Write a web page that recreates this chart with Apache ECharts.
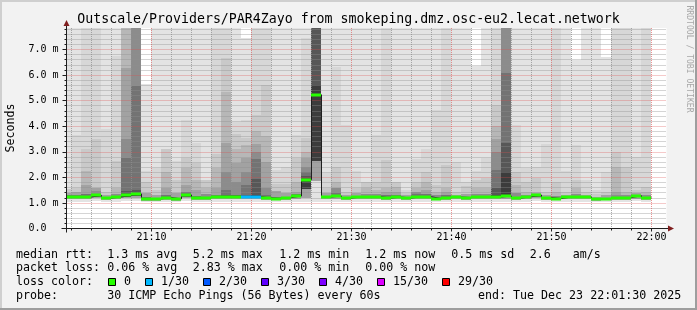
<!DOCTYPE html>
<html><head><meta charset="utf-8">
<script src="https://cdn.jsdelivr.net/npm/echarts@6/dist/echarts.min.js"></script>
<style>html,body{margin:0;padding:0;background:#f2f2f2;}#c{width:697px;height:310px;}</style>
</head><body><div id="c"></div>
<script>
// ---- data ----
const columnEnds = ['21:02','21:03','21:04','21:05','21:06','21:07','21:08','21:09','21:10','21:11',
  '21:12','21:13','21:14','21:15','21:16','21:17','21:18','21:19','21:20','21:21',
  '21:22','21:23','21:24','21:25','21:26','21:27','21:28','21:29','21:30','21:31',
  '21:32','21:33','21:34','21:35','21:36','21:37','21:38','21:39','21:40','21:41',
  '21:42','21:43','21:44','21:45','21:46','21:47','21:48','21:49','21:50','21:51',
  '21:52','21:53','21:54','21:55','21:56','21:57','21:58','21:59','22:00'];
const medianRtt = [1.24,1.24,1.23,1.30,1.19,1.23,1.30,1.35,1.16,1.16,
  1.21,1.16,1.31,1.21,1.21,1.24,1.24,1.24,1.24,1.24,
  1.19,1.17,1.21,1.27,1.91,5.23,1.23,1.27,1.19,1.23,
  1.23,1.24,1.19,1.23,1.19,1.24,1.24,1.17,1.21,1.23,
  1.21,1.23,1.23,1.23,1.27,1.19,1.24,1.31,1.21,1.17,
  1.23,1.23,1.23,1.15,1.17,1.19,1.21,1.28,1.20];
const lostPings = [0,0,0,0,0,0,0,0,0,0, 0,0,0,0,0,0,0,0,1,1, 0,0,0,0,0,0,0,0,0,0,
  0,0,0,0,0,0,0,0,0,0, 0,0,0,0,0,0,0,0,0,0, 0,0,0,0,0,0,0,0,0];
// smoke band tops, lightest (1) to darkest (9); 9 = beyond the top of the graph
const smokeTop1 = [9,9,9,9,9,9,9,9,5.65,9, 9,9,9,9,9,9,9,9,7.45,9, 9,9,9,9,9,9,9,9,9,9,
  9,9,9,9,9,9,9,9,9,9, 9,6.34,9,9,9,9,9,9,9,9, 9,6.6,9,9,6.7,9,9,9,9];
const smokeTop2 = [1.55,3.66,9,9,3.9,6.73,9,9,2.25,2.35, 3.11,2.64,4.25,3.36,1.9,9,9,4.18,4.25,9,
  9,2.29,2.42,3.66,7.45,9,2.16,6.3,4.05,2.25, 1.83,3.66,9,1.83,1.5,2.72,3.11,4.64,9,2.59,
  1.83,2.25,2.77,9,9,4.05,2.35,2.42,3.31,9, 2.25,3.27,1.9,1.5,2.22,9,9,2.81,9];
const smokeTop3 = [1.55,1.57,3.11,3.49,1.44,2.64,9,9,1.83,1.5, 3.11,1.9,2.75,2.56,1.9,2.9,6.67,3.7,3.53,4.44,
  5.6,1.73,1.73,2.75,3.53,9,1.57,2.42,1.44,1.6, 1.83,1.83,2.68,1.83,1.4,1.83,2.22,1.7,2.48,1.44,
  1.65,1.9,1.96,4.84,9,2.22,1.83,1.96,1.44,1.83, 1.44,1.9,1.44,1.35,1.44,3.0,2.42,1.5,1.63];
const smokeTop4 = [1.4,1.42,2.25,1.57,1.3,1.6,9,9,1.37,1.3, 2.22,1.4,2.35,1.9,1.6,2.35,5.35,3.1,3.27,3.8,
  3.6,1.45,1.4,1.83,3.0,9,1.37,1.83,1.3,1.37, 1.57,1.5,1.57,1.63,1.3,1.57,1.83,1.44,1.57,1.32,
  1.35,1.57,1.6,4.0,9,1.7,1.44,1.44,1.3,1.44, 1.32,1.57,1.32,1.25,1.3,2.42,1.44,1.37,1.44];
const smokeTop5 = [1.4,1.42,1.7,1.57,1.3,1.35,6.27,9,1.37,1.3, 1.6,1.4,1.7,1.5,1.35,1.6,3.36,2.56,2.75,3.3,
  2.6,1.45,1.4,1.44,2.75,9,1.37,1.57,1.3,1.37, 1.35,1.35,1.44,1.44,1.3,1.44,1.5,1.3,1.44,1.32,
  1.35,1.35,1.35,3.5,9,1.4,1.32,1.37,1.3,1.28, 1.32,1.33,1.32,1.25,1.3,1.44,1.3,1.37,1.3];
const smokeTop6 = [1.3,1.32,1.36,1.45,1.24,1.35,3.5,9,1.22,1.2, 1.3,1.21,1.42,1.28,1.35,1.32,2.2,1.82,2.2,3.0,
  1.6,1.22,1.25,1.33,2.4,9,1.26,1.57,1.22,1.27, 1.35,1.35,1.3,1.3,1.23,1.44,1.35,1.3,1.3,1.26,
  1.25,1.35,1.35,3.0,9,1.4,1.32,1.35,1.24,1.28, 1.26,1.33,1.26,1.19,1.21,1.3,1.3,1.32,1.3];
const smokeTop7 = [1.3,1.32,1.36,1.35,1.24,1.27,2.75,5.56,1.22,1.2, 1.3,1.21,1.42,1.28,1.25,1.32,1.5,1.3,1.7,2.7,
  1.3,1.22,1.25,1.33,2.22,9,1.26,1.4,1.22,1.27, 1.25,1.26,1.3,1.3,1.23,1.35,1.35,1.2,1.3,1.26,
  1.25,1.26,1.26,2.3,6.08,1.24,1.27,1.35,1.24,1.19, 1.26,1.25,1.26,1.19,1.21,1.21,1.23,1.32,1.22];
const smokeTop8 = [1.27,1.28,1.29,1.35,1.21,1.27,1.45,1.5,1.19,1.18, 1.24,1.18,1.35,1.24,1.25,1.27,1.3,1.3,1.3,1.95,
  1.22,1.19,1.22,1.29,2.05,9,1.24,1.3,1.2,1.24, 1.25,1.26,1.22,1.25,1.21,1.27,1.27,1.2,1.24,1.23,
  1.23,1.26,1.26,1.6,3.33,1.24,1.27,1.33,1.22,1.19, 1.24,1.25,1.24,1.17,1.19,1.21,1.23,1.3,1.22];
const smokeTop9 = [null,null,null,null,null,null,1.34,1.4,null,null, null,null,null,null,null,null,null,null,null,1.3,
  null,null,null,null,1.94,5.6,null,null,null,null, null,null,null,null,null,null,null,null,null,null,
  null,null,null,1.32,2.22,null,null,null,null,null, null,null,null,null,null,null,null,null,null];
// smoke bottoms: outer band, middle bands (2-5), inner bands (6-9)
const smokeBottomOuter = [1.05,1.05,1.05,1.06,1.05,1.05,1.06,1.07,1.03,1.03, 1.05,1.03,1.07,1.05,1.05,1.05,1.05,1.05,1.05,1.05,
  1.05,1.05,1.05,1.05,1.02,1.02,1.05,1.05,1.05,1.05, 1.05,1.05,1.05,1.05,1.05,1.05,1.05,1.05,1.05,1.05,
  1.05,1.05,1.05,1.05,1.05,1.05,1.05,1.07,1.05,1.05, 1.05,1.05,1.05,1.03,1.05,1.05,1.05,1.06,1.05];
const smokeBottomMid = [1.15,1.15,1.14,1.18,1.11,1.14,1.18,1.2,1.09,1.09, 1.12,1.09,1.18,1.12,1.12,1.15,1.15,1.15,1.15,1.15,
  1.11,1.1,1.12,1.16,1.2,1.85,1.14,1.16,1.11,1.14, 1.14,1.15,1.11,1.14,1.11,1.15,1.15,1.1,1.12,1.14,
  1.12,1.14,1.14,1.14,1.16,1.11,1.15,1.18,1.12,1.1, 1.14,1.14,1.14,1.08,1.1,1.11,1.12,1.17,1.12];
const smokeBottomInner = [1.19,1.19,1.18,1.24,1.15,1.18,1.23,1.27,1.12,1.12, 1.17,1.12,1.25,1.17,1.17,1.19,1.19,1.19,1.19,1.19,
  1.15,1.13,1.17,1.22,1.55,2.62,1.18,1.22,1.15,1.18, 1.18,1.19,1.15,1.18,1.15,1.19,1.19,1.13,1.17,1.18,
  1.17,1.18,1.18,1.18,1.22,1.15,1.19,1.25,1.17,1.13, 1.18,1.18,1.18,1.11,1.13,1.15,1.17,1.23,1.16];
// axes
const xMajorTicks = [10,20,30,40,50,60];
const xTickLabels = ['21:10','21:20','21:30','21:40','21:50','22:00'];
const xMinorTicks = [2,4,6,8,12,14,16,18,22,24,26,28,32,34,36,38,42,44,46,48,52,54,56,58];
const yMajorTicks = [0,1,2,3,4,5,6,7];
const yTickLabels = ['0.0  ','1.0 m','2.0 m','3.0 m','4.0 m','5.0 m','6.0 m','7.0 m'];
// legend
const lossLegendLabels = ['0','1/30','2/30','3/30','4/30','15/30','29/30'];
const lossLegendThresholds = [0,1,2,3,4,15,29];
const lossLegendColors = ['#26ff00','#00b8ff','#0059ff','#5e00ff','#7e00ff','#dd00ff','#ff0000'];
const statsRtt = ['1.3 ms avg','5.2 ms max','1.2 ms min','1.2 ms now','0.5 ms sd','2.6','am/s'];
const statsLoss = ['0.06 % avg','2.83 % max','0.00 % min','0.00 % now'];

// ---- chart ----
const X_MIN = 1.5, X_MAX = 61.5, Y_MAX = 7.84;
const MONO = 'DejaVu Sans Mono';
const smokeTops = [smokeTop1,smokeTop2,smokeTop3,smokeTop4,smokeTop5,smokeTop6,smokeTop7,smokeTop8,smokeTop9];
const smokeColors = ['#e3e3e3','#d7d7d7','#c9c9c9','#b7b7b7','#a2a2a2','#8c8c8c','#737373','#575757','#3c3c3c'];
const toMin = s => { const p = s.split(':').map(Number); return (p[0]-21)*60 + p[1]; };
const ends = columnEnds.map(toMin);
function lossColor(n){ let c = lossLegendColors[0]; lossLegendThresholds.forEach((t,i)=>{ if(n>=t) c = lossLegendColors[i]; }); return c; }
const yMinorTicks = []; for (let i=1;i<40;i++) if (i%5) yMinorTicks.push(i/5);

const chart = echarts.init(document.getElementById('c'), null, {renderer:'canvas', width:697, height:310});
const gridLine = {color:'rgba(143,143,143,0.75)', type:[1,1], width:1};
const mgridLine = {color:'rgba(222,79,79,0.6)', type:[1,1], width:1};
chart.setOption({
  animation:false,
  backgroundColor:'#f2f2f2',
  grid:{left:66.5, right:30.5, top:28, bottom:81.5, show:true, backgroundColor:'#ffffff', borderWidth:0, z:-5},
  xAxis:[
    {type:'value', min:X_MIN, max:X_MAX, axisLine:{show:false},
     axisTick:{show:true, customValues:xMajorTicks, length:3, lineStyle:{color:'#1f1f1f'}},
     axisLabel:{customValues:xMajorTicks, formatter:v=>xTickLabels[xMajorTicks.indexOf(v)], fontFamily:MONO, fontSize:10, color:'#000', margin:4},
     splitLine:{show:true, lineStyle:mgridLine}},
    {type:'value', min:X_MIN, max:X_MAX, position:'bottom', axisLine:{show:false},
     axisTick:{show:true, customValues:xMinorTicks, length:2, lineStyle:{color:'#1f1f1f'}},
     axisLabel:{show:false}, splitLine:{show:true, lineStyle:gridLine}}
  ],
  yAxis:[
    {type:'value', min:0, max:Y_MAX, axisLine:{show:false},
     axisTick:{show:true, customValues:yMajorTicks, length:4, lineStyle:{color:'#1f1f1f'}},
     axisLabel:{customValues:yMajorTicks, formatter:v=>yTickLabels[yMajorTicks.indexOf(v)], fontFamily:MONO, fontSize:10, color:'#000', margin:8},
     splitLine:{show:true, lineStyle:mgridLine}},
    {type:'value', min:0, max:Y_MAX, position:'left', axisLine:{show:false},
     axisTick:{show:true, customValues:yMinorTicks, length:2, lineStyle:{color:'#1f1f1f'}},
     axisLabel:{show:false}, splitLine:{show:true, lineStyle:gridLine}}
  ],
  series:[
    {type:'custom', z:-1, clip:true, xAxisIndex:0, yAxisIndex:0,
     data: ends.map((e,i)=>[e-1, e, i]),
     renderItem:(params, api)=>{
       const i = api.value(2), x0 = Math.max(api.value(0), X_MIN), x1 = api.value(1);
       const children = [];
       for (let L=0; L<9; L++){
         const top = smokeTops[L][i]; if (top == null) continue;
         const bot = L===0 ? smokeBottomOuter[i] : (L<5 ? smokeBottomMid[i] : smokeBottomInner[i]);
         const t = Math.min(top, Y_MAX); if (t <= bot) continue;
         const p0 = api.coord([x0, t]), p1 = api.coord([x1, bot]);
         const xa = Math.floor(p0[0]), xb = Math.floor(p1[0]), ya = Math.round(p0[1]), yb = Math.round(p1[1]);
         children.push({type:'rect', shape:{x:xa, y:ya, width:xb-xa, height:Math.max(1,yb-ya)}, style:{fill:smokeColors[L]}});
       }
       return {type:'group', children};
     }},
    {type:'line', step:'end', z:3, xAxisIndex:0, yAxisIndex:0, symbol:'none', showSymbol:false,
     lineStyle:{color:'#202020', width:1},
     data: ends.map((e,i)=>[e-1, medianRtt[i]]).concat([[ends[ends.length-1], medianRtt[medianRtt.length-1]]])},
    {type:'custom', z:4, clip:true, xAxisIndex:0, yAxisIndex:0,
     data: ends.map((e,i)=>[e-1, e, medianRtt[i], lostPings[i]]),
     renderItem:(params, api)=>{
       const p0 = api.coord([Math.max(api.value(0), X_MIN), api.value(2)]), p1 = api.coord([api.value(1), api.value(2)]);
       const xa = Math.floor(p0[0]), xb = Math.floor(p1[0]), y = Math.round(p0[1]);
       return {type:'rect', shape:{x:xa, y:y-1.5, width:xb-xa, height:3}, style:{fill:lossColor(api.value(3))}};
     }}
  ]
});

// ---- frame, axes with arrows, texts ----
const o = chart.convertToPixel({gridIndex:0}, [X_MIN, 0]);
const tr = chart.convertToPixel({gridIndex:0}, [X_MAX, Y_MAX]);
const ax = Math.floor(o[0]) + 0.5, ay = Math.floor(o[1]) + 0.5, topY = Math.round(tr[1]), rightX = Math.round(tr[0]);
const txt = (text, x, y, size, extra) => Object.assign({type:'text', x, y, z:20, silent:true,
  style:Object.assign({text, fontFamily:MONO, fontSize:size, fill:'#000', align:'left', verticalAlign:'middle'}, {})}, extra||{});
const g = [
  {type:'rect', shape:{x:0,y:0,width:697,height:2}, style:{fill:'#cfcfcf'}, z:20},
  {type:'rect', shape:{x:0,y:0,width:2,height:310}, style:{fill:'#cfcfcf'}, z:20},
  {type:'rect', shape:{x:0,y:308,width:697,height:2}, style:{fill:'#9e9e9e'}, z:20},
  {type:'rect', shape:{x:695,y:0,width:2,height:310}, style:{fill:'#9e9e9e'}, z:20},
  {type:'line', shape:{x1:ax-5, y1:ay, x2:rightX+1, y2:ay}, style:{stroke:'#1f1f1f', lineWidth:1}, z:20},
  {type:'line', shape:{x1:ax, y1:ay+4, x2:ax, y2:topY-2}, style:{stroke:'#1f1f1f', lineWidth:1}, z:20},
  {type:'polygon', shape:{points:[[ax, topY-8],[ax-3, topY-2],[ax+3, topY-2]]}, style:{fill:'#801f1f'}, z:21},
  {type:'polygon', shape:{points:[[rightX+7, ay],[rightX+1, ay-3],[rightX+1, ay+3]]}, style:{fill:'#801f1f'}, z:21}
];
g.push(Object.assign(txt('Outscale/Providers/PAR4Zayo from smokeping.dmz.osc-eu2.lecat.network', 348.5, 19.4, 13.25), {}));
g[g.length-1].style.align = 'center';
const sec = txt('Seconds', 10.5, 128, 11.65, {rotation:Math.PI/2}); sec.style.align = 'center'; g.push(sec);
const rrd = txt('RRDTOOL / TOBI OETIKER', 689, 59, 8.1, {rotation:-Math.PI/2}); rrd.style.align='center'; rrd.style.fill='#a8a8a8'; g.push(rrd);
const LF = 11.65, rows = [254.7, 268.3, 282, 296];
g.push(txt('median rtt:', 16, rows[0], LF));
[107.3,192.7,279.3,365.3,451.3,529.7,572.7].forEach((x,i)=>g.push(txt(statsRtt[i], x, rows[0], LF)));
g.push(txt('packet loss:', 16, rows[1], LF));
[107.3,192.7,279.3,365.3].forEach((x,i)=>g.push(txt(statsLoss[i], x, rows[1], LF)));
g.push(txt('loss color:', 16, rows[2], LF));
[108.5,145.5,203.5,261.5,319.5,377.5,442.5].forEach((x,i)=>{
  g.push({type:'rect', shape:{x:x, y:rows[2]-3.5, width:7, height:7}, style:{fill:lossLegendColors[i], stroke:'#000', lineWidth:1}, z:20});
  g.push(txt(lossLegendLabels[i], x+15.5, rows[2], LF));
});
g.push(txt('probe:', 16, rows[3], LF));
g.push(txt('30 ICMP Echo Pings (56 Bytes) every 60s', 107.3, rows[3], LF));
g.push(txt('end: Tue Dec 23 22:01:30 2025', 478, rows[3], LF));
chart.setOption({graphic:{elements:g}});
</script></body></html>
